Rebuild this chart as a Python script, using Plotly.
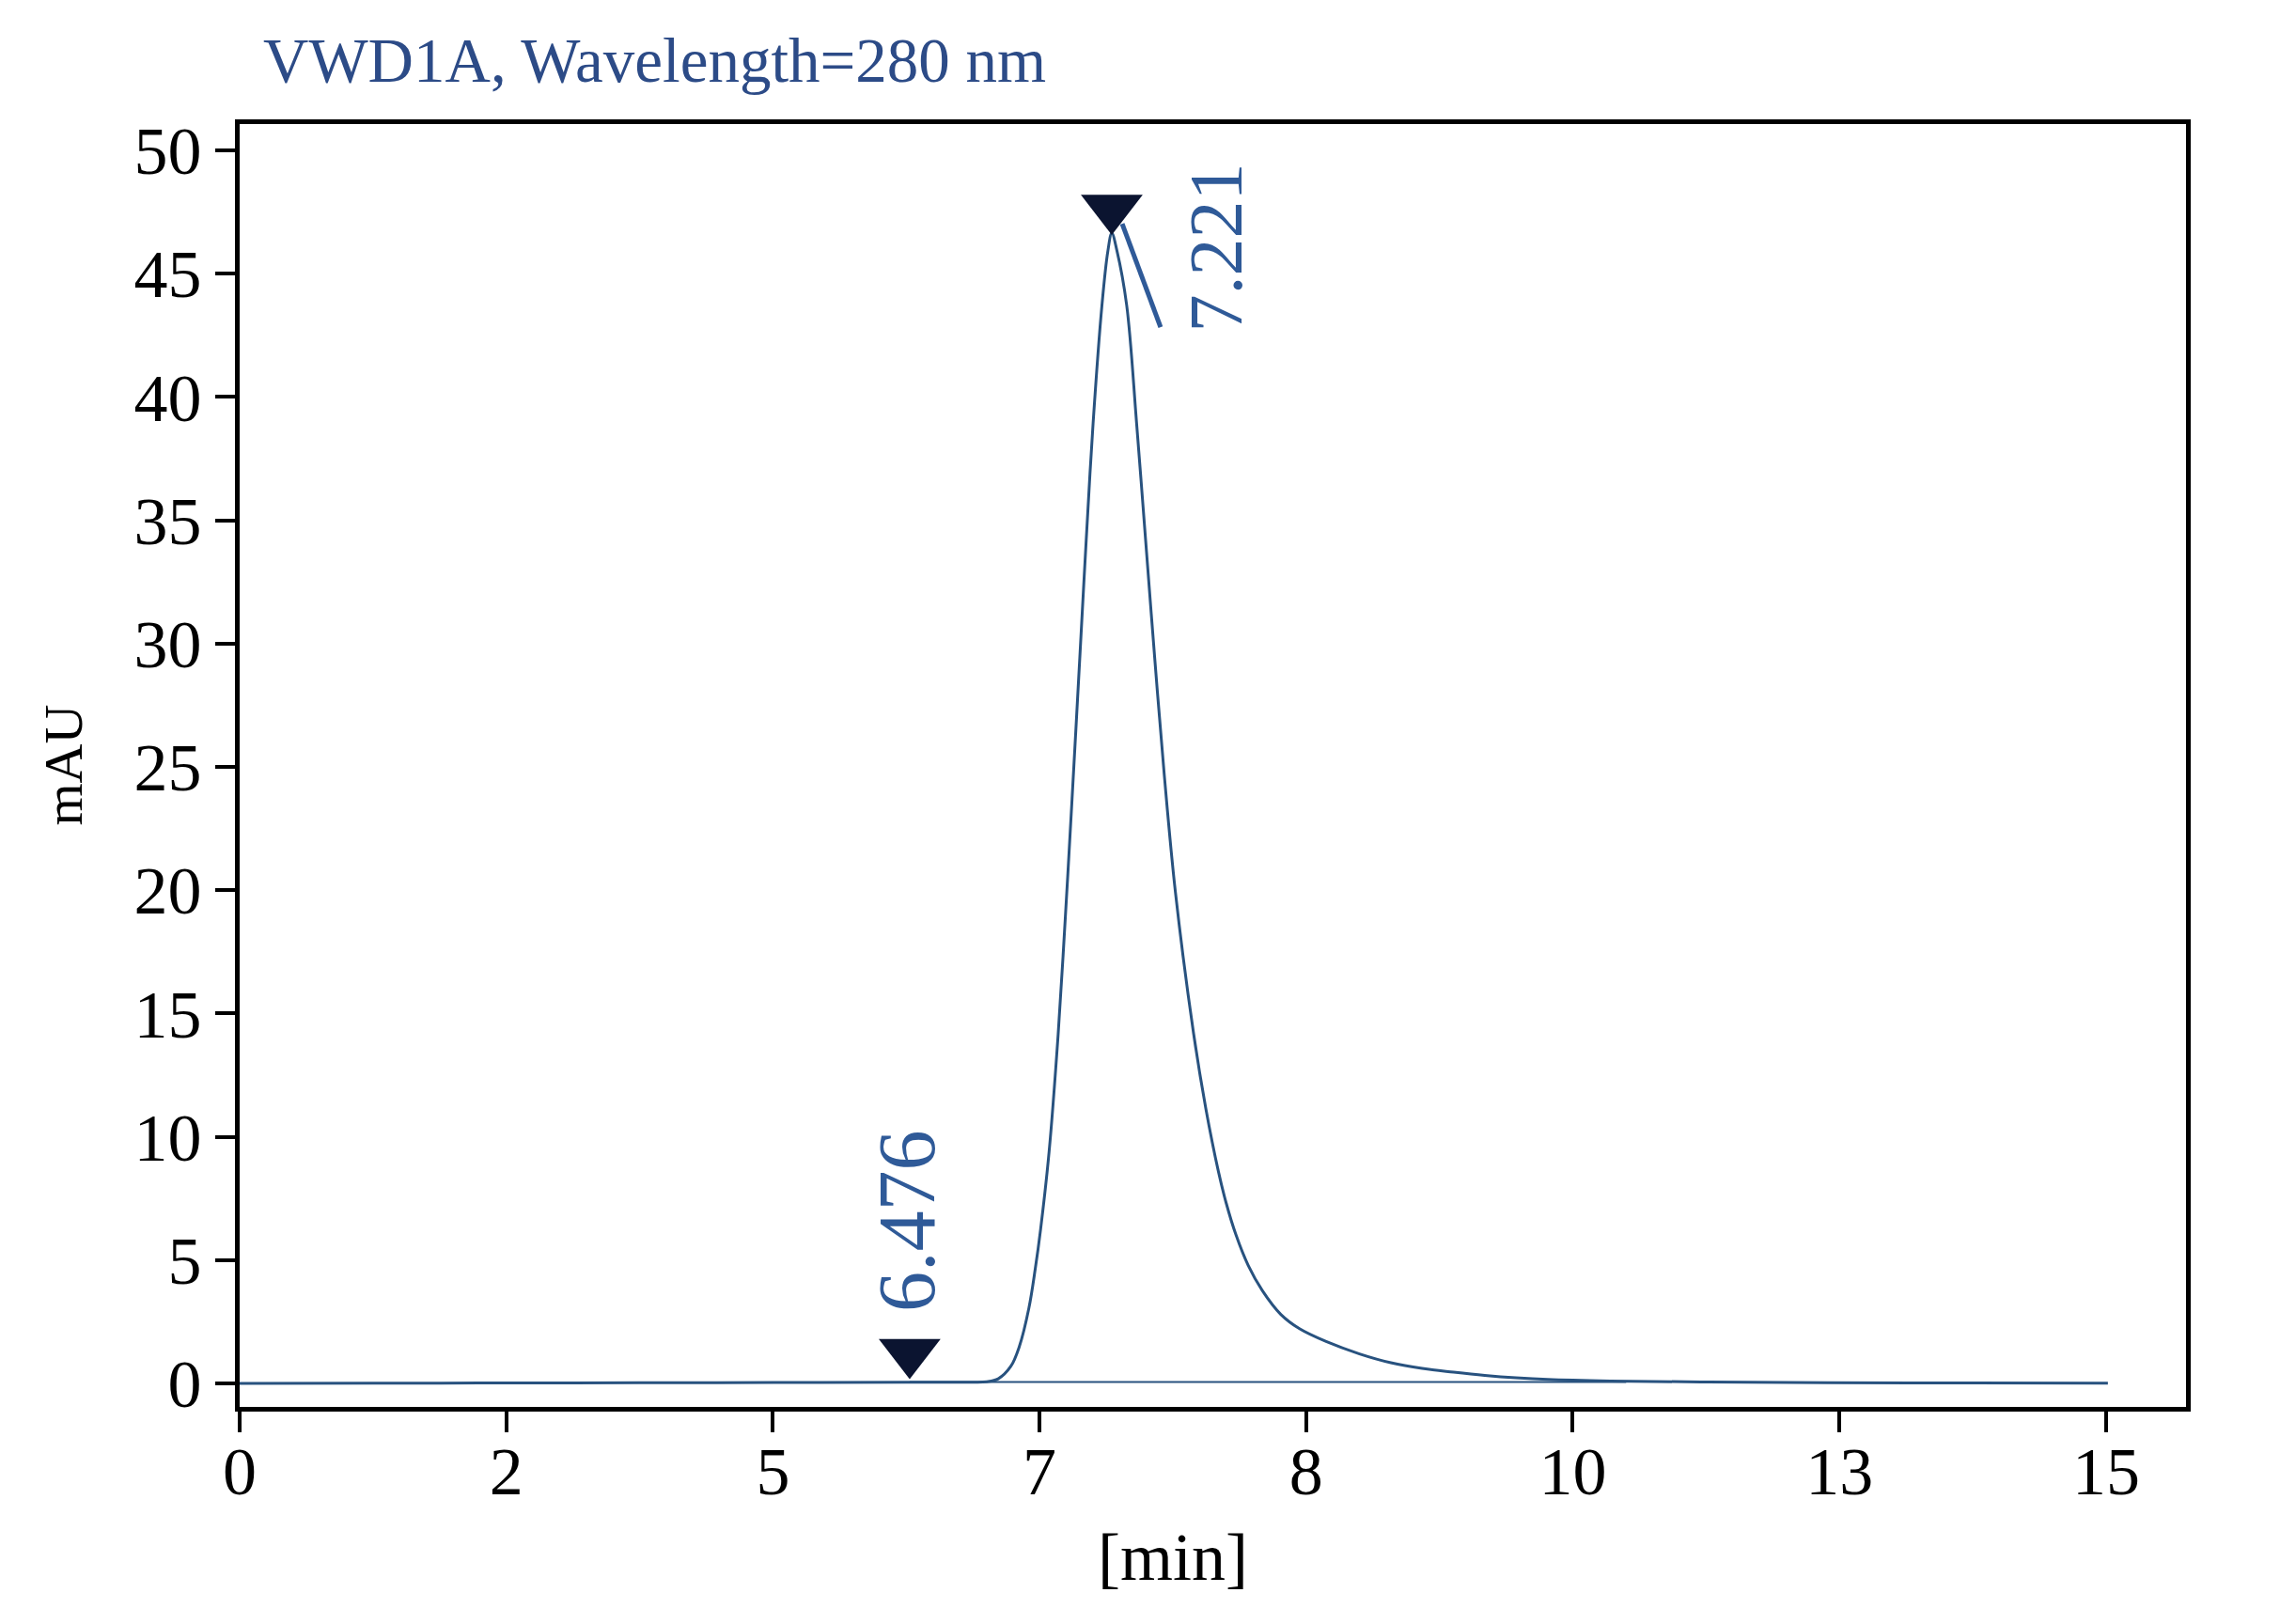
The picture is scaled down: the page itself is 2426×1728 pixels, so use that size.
# external
import plotly.graph_objects as go


##########
# Inputs #
##########

# x axis: evenly spaced tick positions carrying the labels printed on the chart
x_tick_positions = [0, 1, 2, 3, 4, 5, 6, 7]
x_tick_labels = ["0", "2", "5", "7", "8", "10", "13", "15"]

# chromatogram trace (x in tick-position units, y in mAU)
signal_x = [
    0.0, 0.5, 1.0, 1.5, 2.0, 2.5, 2.749, 2.802, 2.845, 2.892, 2.924, 2.960,
    2.984, 3.004, 3.036, 3.070, 3.097, 3.122, 3.151, 3.175, 3.201, 3.234,
    3.256, 3.271, 3.290,
    3.327, 3.364, 3.398, 3.432, 3.468, 3.510, 3.578, 3.624, 3.671, 3.700,
    3.736, 3.783, 3.836, 3.905, 3.975, 4.075, 4.200, 4.318, 4.435, 4.553,
    4.670, 4.787, 4.906, 5.141, 5.509, 5.957, 6.500, 7.007,
]
signal_y = [
    0.00, 0.01, 0.02, 0.03, 0.04, 0.05, 0.05, 0.07, 0.19, 0.69, 1.49, 3.05,
    4.65, 6.25, 9.41, 14.18, 18.94, 23.70, 29.42, 34.18, 38.95, 43.71,
    45.90, 46.65, 45.95,
    43.71, 38.95, 34.18, 29.42, 24.66, 19.89, 14.18, 11.13, 8.59, 7.32,
    6.05, 4.78, 3.76, 2.80, 2.22, 1.70, 1.20, 0.84, 0.61, 0.46,
    0.33, 0.23, 0.16, 0.10, 0.06, 0.03, 0.02, 0.01,
]

# integration baseline under the peak
baseline_x = [2.513, 5.20]
baseline_y = [0.06, 0.06]

# peak markers and their labels
peak_marker_x = [2.513, 3.271]
peak_marker_y = [1.26, 47.66]
peak_labels = ["6.476", "7.221"]
peak_label_x = [2.503, 3.662]
peak_label_y = [6.60, 46.05]
peak_label_sizes = [86, 80]

# leader line from the main peak marker to its label
leader_x = [3.310, 3.454]
leader_y = [47.03, 42.83]

title_text = "VWD1A, Wavelength=280 nm"
x_axis_title = "[min]"
y_axis_title = "mAU"


###########
# Styling #
###########

serif = "Liberation Serif, Times New Roman, serif"
title_colour = "#2c4b87"
label_colour = "#2f5a98"
trace_colour = "#28527f"
marker_colour = "#0b1430"


##########
# Traces #
##########

plot_data = [
    go.Scatter(
        x=signal_x,
        y=signal_y,
        mode="lines",
        line={"color": trace_colour, "width": 3, "shape": "spline", "smoothing": 1.0},
        showlegend=False,
        hoverinfo="skip",
    ),
    go.Scatter(
        x=baseline_x,
        y=baseline_y,
        mode="lines",
        line={"color": trace_colour, "width": 2},
        showlegend=False,
        hoverinfo="skip",
    ),
    go.Scatter(
        x=leader_x,
        y=leader_y,
        mode="lines",
        line={"color": label_colour, "width": 5},
        showlegend=False,
        hoverinfo="skip",
    ),
    go.Scatter(
        x=peak_marker_x,
        y=peak_marker_y,
        mode="markers",
        marker={"symbol": "triangle-down", "size": 57, "color": marker_colour,
                "line": {"width": 0}},
        showlegend=False,
        hoverinfo="skip",
    ),
]


###############
# Annotations #
###############

annotations = [
    {
        "text": title_text,
        "xref": "paper", "yref": "paper",
        "x": 0.011, "y": 1.0498,
        "xanchor": "left", "yanchor": "middle",
        "showarrow": False,
        "font": {"family": serif, "size": 67, "color": title_colour},
    },
    {
        "text": y_axis_title,
        "xref": "paper", "yref": "paper",
        "x": -0.0903, "y": 0.5007,
        "xanchor": "center", "yanchor": "middle",
        "textangle": -90,
        "showarrow": False,
        "font": {"family": serif, "size": 58, "color": "black"},
    },
    {
        "text": x_axis_title,
        "xref": "paper", "yref": "paper",
        "x": 0.4795, "y": -0.1172,
        "xanchor": "center", "yanchor": "middle",
        "showarrow": False,
        "font": {"family": serif, "size": 72, "color": "black"},
    },
]

for label, lx, ly, size in zip(peak_labels, peak_label_x, peak_label_y, peak_label_sizes):
    annotations.append({
        "text": label,
        "x": lx, "y": ly,
        "xanchor": "center", "yanchor": "middle",
        "textangle": -90,
        "showarrow": False,
        "font": {"family": serif, "size": size, "color": label_colour},
    })


##########
# Layout #
##########

axis_font = {"family": serif, "size": 72, "color": "black"}

plot_layout = go.Layout(
    width=2410,
    height=1710,
    paper_bgcolor="white",
    plot_bgcolor="white",
    margin={"l": 247, "r": 92, "t": 124, "b": 221, "pad": 0},
    xaxis={
        "range": [0, 7.30],
        "tickmode": "array",
        "tickvals": x_tick_positions,
        "ticktext": x_tick_labels,
        "ticks": "outside",
        "ticklen": 22,
        "tickwidth": 4,
        "tickcolor": "black",
        "tickfont": axis_font,
        "ticklabelstandoff": -20,
        "showline": True,
        "linecolor": "black",
        "linewidth": 5,
        "mirror": True,
        "showgrid": False,
        "zeroline": False,
    },
    yaxis={
        "range": [-0.95, 51.07],
        "tick0": 0,
        "dtick": 5,
        "ticks": "outside",
        "ticklen": 21,
        "tickwidth": 4,
        "tickcolor": "black",
        "tickfont": axis_font,
        "showline": True,
        "linecolor": "black",
        "linewidth": 5,
        "mirror": True,
        "showgrid": False,
        "zeroline": False,
    },
    annotations=annotations,
)


#############
# Save plot #
#############

fig = go.Figure(plot_data, plot_layout)
fig.write_html("out.html")
